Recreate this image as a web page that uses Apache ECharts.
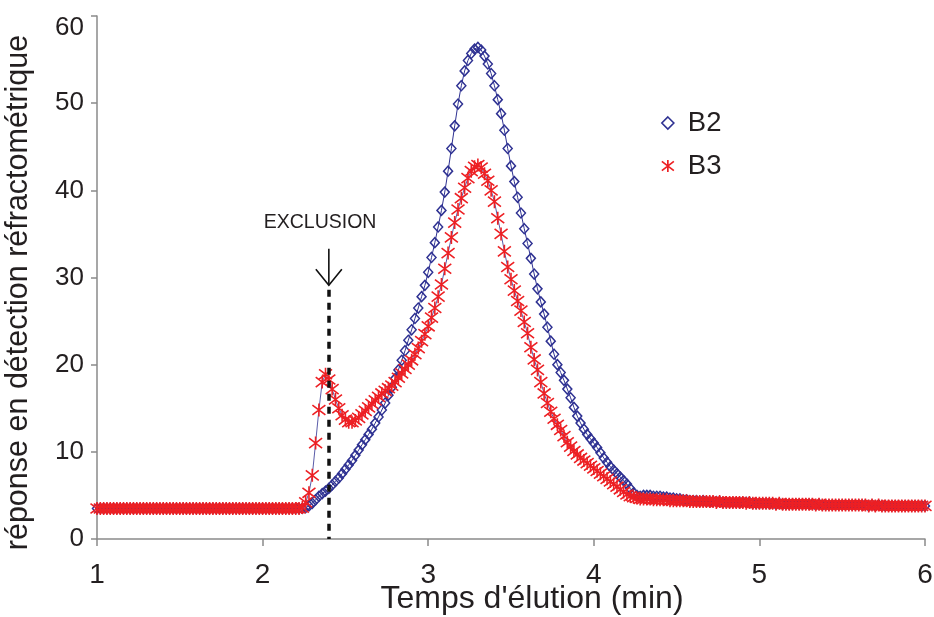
<!DOCTYPE html>
<html><head><meta charset="utf-8">
<script src="https://cdn.jsdelivr.net/npm/echarts@6/dist/echarts.min.js"></script>
<style>html,body{margin:0;padding:0;background:#fff}#c{width:934px;height:617px}</style>
</head><body><div id="c"></div>
<script>
// Sample times (min)
const times = [
1.00,1.02,1.04,1.06,1.08,1.10,1.12,1.14,1.16,1.18,
1.20,1.22,1.24,1.26,1.28,1.30,1.32,1.34,1.36,1.38,
1.40,1.42,1.44,1.46,1.48,1.50,1.52,1.54,1.56,1.58,
1.60,1.62,1.64,1.66,1.68,1.70,1.72,1.74,1.76,1.78,
1.80,1.82,1.84,1.86,1.88,1.90,1.92,1.94,1.96,1.98,
2.00,2.02,2.04,2.06,2.08,2.10,2.12,2.14,2.16,2.18,
2.20,2.22,2.24,2.26,2.28,2.30,2.32,2.34,2.36,2.38,
2.40,2.42,2.44,2.46,2.48,2.50,2.52,2.54,2.56,2.58,
2.60,2.62,2.64,2.66,2.68,2.70,2.72,2.74,2.76,2.78,
2.80,2.82,2.84,2.86,2.88,2.90,2.92,2.94,2.96,2.98,
3.00,3.02,3.04,3.06,3.08,3.10,3.12,3.14,3.16,3.18,
3.20,3.22,3.24,3.26,3.28,3.30,3.32,3.34,3.36,3.38,
3.40,3.42,3.44,3.46,3.48,3.50,3.52,3.54,3.56,3.58,
3.60,3.62,3.64,3.66,3.68,3.70,3.72,3.74,3.76,3.78,
3.80,3.82,3.84,3.86,3.88,3.90,3.92,3.94,3.96,3.98,
4.00,4.02,4.04,4.06,4.08,4.10,4.12,4.14,4.16,4.18,
4.20,4.22,4.24,4.26,4.28,4.30,4.32,4.34,4.36,4.38,
4.40,4.42,4.44,4.46,4.48,4.50,4.52,4.54,4.56,4.58,
4.60,4.62,4.64,4.66,4.68,4.70,4.72,4.74,4.76,4.78,
4.80,4.82,4.84,4.86,4.88,4.90,4.92,4.94,4.96,4.98,
5.00,5.02,5.04,5.06,5.08,5.10,5.12,5.14,5.16,5.18,
5.20,5.22,5.24,5.26,5.28,5.30,5.32,5.34,5.36,5.38,
5.40,5.42,5.44,5.46,5.48,5.50,5.52,5.54,5.56,5.58,
5.60,5.62,5.64,5.66,5.68,5.70,5.72,5.74,5.76,5.78,
5.80,5.82,5.84,5.86,5.88,5.90,5.92,5.94,5.96,5.98,
6.00];

// B2 response
const b2 = [
3.5,3.5,3.5,3.5,3.5,3.5,3.5,3.5,3.5,3.5,
3.5,3.5,3.5,3.5,3.5,3.5,3.5,3.5,3.5,3.5,
3.5,3.5,3.5,3.5,3.5,3.5,3.5,3.5,3.5,3.5,
3.5,3.5,3.5,3.5,3.5,3.5,3.5,3.5,3.5,3.5,
3.5,3.5,3.5,3.5,3.5,3.5,3.5,3.5,3.5,3.5,
3.5,3.5,3.5,3.5,3.5,3.5,3.5,3.5,3.5,3.5,
3.5,3.5,3.5,3.6,3.8,4.1,4.5,4.9,5.2,5.5,
5.8,6.2,6.6,7.0,7.5,8.0,8.5,9.0,9.6,10.2,
10.8,11.4,12.0,12.6,13.3,14.0,14.8,15.6,16.5,17.4,
18.4,19.4,20.5,21.6,22.8,24.0,25.3,26.5,27.8,29.1,
30.6,32.3,34.0,35.8,37.7,39.8,42.2,44.8,47.4,49.9,
52.0,53.7,54.9,55.7,56.2,56.4,56.1,55.4,54.5,53.4,
52.0,50.4,48.8,46.9,44.8,42.8,41.0,39.2,37.4,35.6,
33.9,32.2,30.4,28.7,27.2,25.8,24.3,22.7,21.2,20.0,
19.1,18.2,17.2,16.2,15.1,14.1,13.3,12.6,12.0,11.5,
11.0,10.5,9.9,9.3,8.8,8.3,7.9,7.5,7.1,6.7,
6.3,5.8,5.3,5.0,4.9,5.0,5.0,5.0,4.9,4.9,
4.9,4.8,4.8,4.7,4.7,4.6,4.6,4.5,4.5,4.4,
4.4,4.4,4.3,4.4,4.3,4.3,4.3,4.3,4.3,4.2,
4.2,4.2,4.2,4.2,4.2,4.2,4.2,4.2,4.1,4.1,
4.1,4.1,4.1,4.1,4.1,4.0,4.1,4.0,4.0,4.0,
4.0,4.0,4.0,4.0,4.0,4.0,4.0,3.9,4.0,3.9,
3.9,3.9,3.9,3.9,3.9,3.9,3.9,3.9,3.9,3.9,
3.9,3.9,3.9,3.8,3.9,3.8,3.9,3.8,3.8,3.8,
3.8,3.8,3.8,3.8,3.8,3.8,3.8,3.8,3.8,3.8,
3.8];

// B3 response
const b3 = [
3.5,3.5,3.5,3.5,3.5,3.5,3.5,3.5,3.5,3.5,
3.5,3.5,3.5,3.5,3.5,3.5,3.5,3.5,3.5,3.5,
3.5,3.5,3.5,3.5,3.5,3.5,3.5,3.5,3.5,3.5,
3.5,3.5,3.5,3.5,3.5,3.5,3.5,3.5,3.5,3.5,
3.5,3.5,3.5,3.5,3.5,3.5,3.5,3.5,3.5,3.5,
3.5,3.5,3.5,3.5,3.5,3.5,3.5,3.5,3.5,3.5,
3.5,3.5,3.6,4.2,5.3,7.3,11.0,14.8,18.0,18.9,
18.3,17.2,16.0,15.0,14.2,13.7,13.4,13.4,13.6,13.9,
14.3,14.7,15.1,15.5,15.9,16.3,16.7,17.0,17.3,17.6,
18.0,18.5,19.0,19.5,20.0,20.5,21.2,21.9,22.7,23.5,
24.4,25.4,26.5,27.8,29.2,31.0,32.8,34.6,36.3,37.8,
39.1,40.3,41.4,42.2,42.7,42.9,42.6,41.9,41.1,40.0,
38.7,36.8,35.0,33.0,31.2,29.8,28.5,27.3,26.2,24.9,
23.6,22.0,20.6,19.4,18.0,16.7,15.6,14.6,13.8,13.1,
12.5,11.8,11.1,10.6,10.1,9.7,9.3,9.0,8.7,8.4,
8.1,7.8,7.5,7.2,6.9,6.6,6.3,6.0,5.7,5.4,
5.1,4.9,4.8,4.7,4.6,4.6,4.6,4.6,4.5,4.5,
4.5,4.5,4.5,4.4,4.4,4.4,4.4,4.4,4.4,4.3,
4.3,4.3,4.3,4.3,4.3,4.3,4.3,4.2,4.3,4.2,
4.2,4.2,4.2,4.2,4.2,4.2,4.1,4.2,4.1,4.1,
4.1,4.1,4.1,4.1,4.1,4.0,4.1,4.0,4.0,4.0,
4.0,4.0,4.0,4.0,4.0,4.0,4.0,3.9,4.0,3.9,
3.9,3.9,3.9,3.9,3.9,3.9,3.9,3.9,3.9,3.9,
3.9,3.9,3.9,3.8,3.9,3.8,3.9,3.8,3.8,3.8,
3.8,3.8,3.8,3.8,3.8,3.8,3.8,3.8,3.8,3.8,
3.8];

const seriesNames = ['B2', 'B3'];
const exclusionTime = 2.4;
const exclusionLabel = 'EXCLUSION';
const xTitle = "Temps d'élution (min)";
const yTitle = 'réponse en détection réfractométrique';

const BLUE = '#2e3192';
const RED = '#ed2024';
const TXT = '#231f20';
const AXIS = '#8a8a8a';
const star = 'path://M5,0L5,10M0,1.2L10,8.8M10,1.2L0,8.8';

const chart = echarts.init(document.getElementById('c'));
chart.setOption({
  animation: false,
  backgroundColor: '#fff',
  grid: { left: 97, right: 9, top: 16, bottom: 78, containLabel: false, outerBoundsMode: 'none' },
  legend: {
    orient: 'vertical', left: 656, top: 104,
    itemWidth: 12, itemHeight: 12, itemGap: 15,
    textStyle: { fontFamily: 'Liberation Sans, Arial, sans-serif', fontSize: 27.5, color: TXT, padding: [0, 0, 0, 9] },
    data: [
      { name: 'B2', icon: 'diamond', itemStyle: { color: 'rgba(255,255,255,0)', borderColor: BLUE, borderWidth: 1.6 } },
      { name: 'B3', icon: star, itemStyle: { color: 'rgba(255,255,255,0)', borderColor: RED, borderWidth: 1.7 } }
    ]
  },
  xAxis: {
    type: 'value', min: 1, max: 6, interval: 1,
    name: xTitle, nameLocation: 'middle', nameGap: 44, nameMoveOverlap: false,
    nameTextStyle: { fontFamily: 'Liberation Sans, Arial, sans-serif', fontSize: 32, color: TXT, padding: [0, 0, 0, 42] },
    axisLine: { lineStyle: { color: AXIS, width: 1.5 } },
    axisTick: { show: true, inside: false, length: 7, lineStyle: { color: AXIS, width: 1.5 } },
    axisLabel: { margin: 22, fontFamily: 'Liberation Sans Narrow, Arial Narrow, Liberation Sans, sans-serif', fontSize: 28, color: TXT },
    splitLine: { show: false }
  },
  yAxis: {
    type: 'value', min: 0, max: 60, interval: 10,
    name: yTitle, nameLocation: 'middle', nameGap: 63, nameMoveOverlap: false,
    nameTextStyle: { fontFamily: 'Liberation Sans, Arial, sans-serif', fontSize: 30.5, color: TXT, padding: [0, 30, 0, 0] },
    axisLine: { show: true, lineStyle: { color: AXIS, width: 1.5 } },
    axisTick: { show: true, inside: false, length: 6, lineStyle: { color: AXIS, width: 1.5 } },
    axisLabel: {
      margin: 13, fontFamily: 'Liberation Sans, Arial, sans-serif', fontSize: 26, color: TXT,
      formatter: v => (v === 60 ? '{top|' + v + '}' : String(v)),
      rich: { top: { fontFamily: 'Liberation Sans, Arial, sans-serif', fontSize: 26, color: TXT, padding: [24, 0, 0, 0] } }
    },
    splitLine: { show: false }
  },
  series: [
    {
      name: seriesNames[0], type: 'line', z: 2,
      data: times.map((t, i) => [t, b2[i]]),
      symbol: 'diamond', symbolSize: [9, 10],
      itemStyle: { color: 'rgba(255,255,255,0)', borderColor: BLUE, borderWidth: 1.5 },
      lineStyle: { color: BLUE, width: 1 },
      emphasis: { disabled: true }, silent: true
    },
    {
      name: seriesNames[1], type: 'line', z: 3,
      data: times.map((t, i) => [t, b3[i]]),
      symbol: star, symbolSize: [13, 13],
      itemStyle: { color: 'rgba(255,255,255,0)', borderColor: RED, borderWidth: 1.6 },
      lineStyle: { color: BLUE, width: 0.8 },
      emphasis: { disabled: true }, silent: true,
      markLine: {
        silent: true, symbol: ['none', 'none'], label: { show: false },
        lineStyle: { color: '#111', width: 3.5, type: [7, 6] },
        data: [[{ coord: [exclusionTime, 28.6] }, { coord: [exclusionTime, 0] }]]
      }
    }
  ]
});

// Annotation (arrow + label) positioned through the chart's own scales
const arrowTop = chart.convertToPixel({ gridIndex: 0 }, [exclusionTime, 33.3]);
const arrowTip = chart.convertToPixel({ gridIndex: 0 }, [exclusionTime, 29.1]);
const labelPos = chart.convertToPixel({ gridIndex: 0 }, [2.347, 36.3]);
chart.setOption({
  graphic: [
    { type: 'line', shape: { x1: arrowTop[0], y1: arrowTop[1], x2: arrowTip[0], y2: arrowTip[1] }, style: { stroke: '#111', lineWidth: 1.6 } },
    { type: 'polyline', shape: { points: [[arrowTip[0] - 13, arrowTip[1] - 16], [arrowTip[0], arrowTip[1]], [arrowTip[0] + 13, arrowTip[1] - 16]] }, style: { stroke: '#111', lineWidth: 1.6, fill: null } },
    { type: 'text', x: labelPos[0], y: labelPos[1], style: { text: exclusionLabel, fontFamily: 'Liberation Sans, Arial, sans-serif', fontSize: 19.5, fill: TXT, align: 'center', verticalAlign: 'middle' } }
  ]
});
</script>
</body></html>
